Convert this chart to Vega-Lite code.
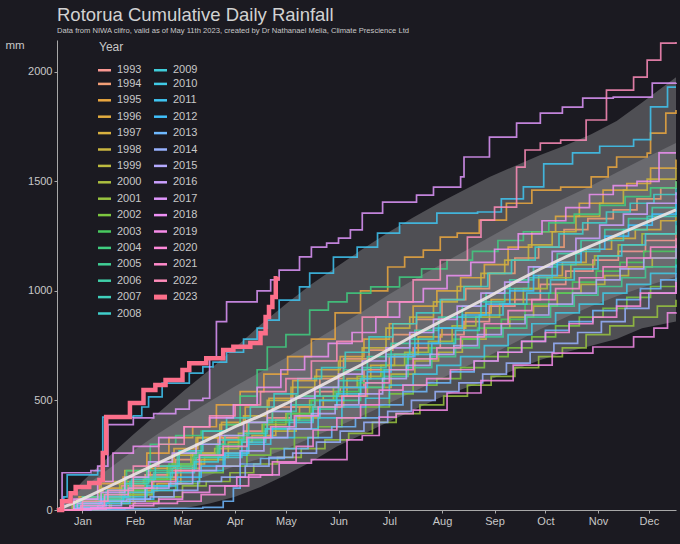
{
  "$schema": "https://vega.github.io/schema/vega-lite/v6.json",
  "width": 619,
  "height": 470,
  "autosize": {"type": "none"},
  "padding": {"left": 57, "top": 40, "right": 4, "bottom": 34},
  "background": "#1b1a21",
  "title": {
    "text": "Rotorua Cumulative Daily Rainfall",
    "subtitle": "Data from NIWA clifro, valid as of May 11th 2023, created by Dr Nathanael Melia, Climate Prescience Ltd",
    "anchor": "start",
    "frame": "group",
    "font": "Liberation Sans",
    "fontSize": 18.5,
    "fontWeight": "normal",
    "color": "#d2d2d2",
    "subtitleFont": "Liberation Sans",
    "subtitleFontSize": 7.6,
    "subtitleColor": "#c8c8c8",
    "subtitlePadding": 2,
    "offset": 4
  },
  "config": {
    "view": {"stroke": null},
    "font": "Liberation Sans",
    "axis": {
      "grid": false,
      "domainColor": "#a8a8a8",
      "tickColor": "#a8a8a8",
      "tickSize": 3,
      "labelColor": "#c8c8c8",
      "labelFontSize": 11,
      "labelPadding": 2,
      "titleColor": "#c8c8c8",
      "titleFontWeight": "normal"
    }
  },
  "datasets": {
    "band": [
      {"day": 0, "lo2": 0, "lo1": 0, "mean": 0, "hi1": 0, "hi2": 0},
      {"day": 15, "lo2": 0, "lo1": 10, "mean": 50, "hi1": 100, "hi2": 130},
      {"day": 30, "lo2": 0, "lo1": 30, "mean": 105, "hi1": 185, "hi2": 240},
      {"day": 45, "lo2": 0, "lo1": 55, "mean": 160, "hi1": 270, "hi2": 345},
      {"day": 60, "lo2": 2, "lo1": 85, "mean": 215, "hi1": 350, "hi2": 445},
      {"day": 75, "lo2": 8, "lo1": 120, "mean": 270, "hi1": 425, "hi2": 545},
      {"day": 90, "lo2": 30, "lo1": 160, "mean": 325, "hi1": 495, "hi2": 640},
      {"day": 105, "lo2": 60, "lo1": 200, "mean": 380, "hi1": 565, "hi2": 740},
      {"day": 120, "lo2": 105, "lo1": 235, "mean": 430, "hi1": 630, "hi2": 845},
      {"day": 135, "lo2": 160, "lo1": 280, "mean": 485, "hi1": 695, "hi2": 940},
      {"day": 150, "lo2": 220, "lo1": 330, "mean": 545, "hi1": 765, "hi2": 1030},
      {"day": 165, "lo2": 290, "lo1": 380, "mean": 605, "hi1": 835, "hi2": 1110},
      {"day": 180, "lo2": 345, "lo1": 430, "mean": 665, "hi1": 905, "hi2": 1190},
      {"day": 195, "lo2": 400, "lo1": 485, "mean": 730, "hi1": 980, "hi2": 1265},
      {"day": 210, "lo2": 455, "lo1": 540, "mean": 795, "hi1": 1050, "hi2": 1335},
      {"day": 225, "lo2": 510, "lo1": 595, "mean": 855, "hi1": 1115, "hi2": 1400},
      {"day": 240, "lo2": 555, "lo1": 650, "mean": 915, "hi1": 1180, "hi2": 1460},
      {"day": 255, "lo2": 595, "lo1": 705, "mean": 975, "hi1": 1245, "hi2": 1520},
      {"day": 270, "lo2": 640, "lo1": 765, "mean": 1040, "hi1": 1310, "hi2": 1570},
      {"day": 285, "lo2": 685, "lo1": 825, "mean": 1100, "hi1": 1370, "hi2": 1620},
      {"day": 300, "lo2": 720, "lo1": 880, "mean": 1155, "hi1": 1425, "hi2": 1665},
      {"day": 315, "lo2": 750, "lo1": 930, "mean": 1205, "hi1": 1480, "hi2": 1715},
      {"day": 330, "lo2": 780, "lo1": 975, "mean": 1255, "hi1": 1540, "hi2": 1775},
      {"day": 345, "lo2": 830, "lo1": 1015, "mean": 1305, "hi1": 1600, "hi2": 1860},
      {"day": 365, "lo2": 860, "lo1": 1065, "mean": 1370, "hi1": 1675, "hi2": 1975}
    ],
    "years": [
      {"Year":"1993","day":0,"mm":0},{"Year":"1993","day":10,"mm":20},{"Year":"1993","day":24,"mm":45},{"Year":"1993","day":38,"mm":110},{"Year":"1993","day":52,"mm":160},{"Year":"1993","day":66,"mm":180},{"Year":"1993","day":80,"mm":260},{"Year":"1993","day":95,"mm":330},{"Year":"1993","day":110,"mm":360},{"Year":"1993","day":124,"mm":420},{"Year":"1993","day":138,"mm":470},{"Year":"1993","day":152,"mm":540},{"Year":"1993","day":167,"mm":560},{"Year":"1993","day":181,"mm":640},{"Year":"1993","day":196,"mm":700},{"Year":"1993","day":210,"mm":740},{"Year":"1993","day":226,"mm":800},{"Year":"1993","day":240,"mm":860},{"Year":"1993","day":255,"mm":930},{"Year":"1993","day":270,"mm":960},{"Year":"1993","day":285,"mm":1030},{"Year":"1993","day":300,"mm":1090},{"Year":"1993","day":316,"mm":1140},{"Year":"1993","day":331,"mm":1180},{"Year":"1993","day":347,"mm":1230},{"Year":"1993","day":365,"mm":1270},
      {"Year":"1994","day":0,"mm":0},{"Year":"1994","day":14,"mm":30},{"Year":"1994","day":28,"mm":60},{"Year":"1994","day":42,"mm":70},{"Year":"1994","day":56,"mm":150},{"Year":"1994","day":70,"mm":230},{"Year":"1994","day":84,"mm":250},{"Year":"1994","day":98,"mm":330},{"Year":"1994","day":112,"mm":400},{"Year":"1994","day":127,"mm":470},{"Year":"1994","day":141,"mm":520},{"Year":"1994","day":155,"mm":600},{"Year":"1994","day":169,"mm":690},{"Year":"1994","day":184,"mm":730},{"Year":"1994","day":198,"mm":800},{"Year":"1994","day":212,"mm":870},{"Year":"1994","day":227,"mm":960},{"Year":"1994","day":241,"mm":1010},{"Year":"1994","day":255,"mm":1080},{"Year":"1994","day":270,"mm":1150},{"Year":"1994","day":284,"mm":1200},{"Year":"1994","day":299,"mm":1280},{"Year":"1994","day":313,"mm":1330},{"Year":"1994","day":328,"mm":1370},{"Year":"1994","day":342,"mm":1420},{"Year":"1994","day":356,"mm":1470},{"Year":"1994","day":365,"mm":1500},
      {"Year":"1995","day":0,"mm":0},{"Year":"1995","day":11,"mm":40},{"Year":"1995","day":25,"mm":120},{"Year":"1995","day":39,"mm":150},{"Year":"1995","day":53,"mm":260},{"Year":"1995","day":66,"mm":330},{"Year":"1995","day":80,"mm":380},{"Year":"1995","day":94,"mm":480},{"Year":"1995","day":108,"mm":540},{"Year":"1995","day":122,"mm":620},{"Year":"1995","day":136,"mm":700},{"Year":"1995","day":150,"mm":780},{"Year":"1995","day":164,"mm":900},{"Year":"1995","day":179,"mm":1000},{"Year":"1995","day":195,"mm":1109},{"Year":"1995","day":205,"mm":1154},{"Year":"1995","day":216,"mm":1186},{"Year":"1995","day":226,"mm":1245},{"Year":"1995","day":236,"mm":1264},{"Year":"1995","day":249,"mm":1323},{"Year":"1995","day":265,"mm":1400},{"Year":"1995","day":280,"mm":1460},{"Year":"1995","day":297,"mm":1474},{"Year":"1995","day":315,"mm":1520},{"Year":"1995","day":325,"mm":1565},{"Year":"1995","day":330,"mm":1611},{"Year":"1995","day":348,"mm":1629},{"Year":"1995","day":350,"mm":1720},{"Year":"1995","day":359,"mm":1811},{"Year":"1995","day":365,"mm":1825},
      {"Year":"1996","day":0,"mm":0},{"Year":"1996","day":13,"mm":60},{"Year":"1996","day":27,"mm":100},{"Year":"1996","day":41,"mm":130},{"Year":"1996","day":55,"mm":190},{"Year":"1996","day":69,"mm":280},{"Year":"1996","day":83,"mm":330},{"Year":"1996","day":97,"mm":400},{"Year":"1996","day":111,"mm":470},{"Year":"1996","day":125,"mm":510},{"Year":"1996","day":139,"mm":590},{"Year":"1996","day":153,"mm":640},{"Year":"1996","day":167,"mm":700},{"Year":"1996","day":181,"mm":780},{"Year":"1996","day":196,"mm":850},{"Year":"1996","day":210,"mm":930},{"Year":"1996","day":224,"mm":1000},{"Year":"1996","day":238,"mm":1060},{"Year":"1996","day":252,"mm":1120},{"Year":"1996","day":266,"mm":1200},{"Year":"1996","day":280,"mm":1270},{"Year":"1996","day":294,"mm":1340},{"Year":"1996","day":308,"mm":1400},{"Year":"1996","day":322,"mm":1460},{"Year":"1996","day":336,"mm":1490},{"Year":"1996","day":350,"mm":1560},{"Year":"1996","day":365,"mm":1600},
      {"Year":"1997","day":0,"mm":0},{"Year":"1997","day":16,"mm":5},{"Year":"1997","day":31,"mm":40},{"Year":"1997","day":45,"mm":90},{"Year":"1997","day":59,"mm":120},{"Year":"1997","day":73,"mm":210},{"Year":"1997","day":87,"mm":240},{"Year":"1997","day":101,"mm":310},{"Year":"1997","day":115,"mm":340},{"Year":"1997","day":129,"mm":410},{"Year":"1997","day":143,"mm":470},{"Year":"1997","day":157,"mm":520},{"Year":"1997","day":171,"mm":600},{"Year":"1997","day":185,"mm":660},{"Year":"1997","day":199,"mm":710},{"Year":"1997","day":213,"mm":790},{"Year":"1997","day":227,"mm":830},{"Year":"1997","day":241,"mm":900},{"Year":"1997","day":256,"mm":960},{"Year":"1997","day":270,"mm":1010},{"Year":"1997","day":284,"mm":1070},{"Year":"1997","day":298,"mm":1130},{"Year":"1997","day":312,"mm":1190},{"Year":"1997","day":327,"mm":1240},{"Year":"1997","day":341,"mm":1280},{"Year":"1997","day":356,"mm":1320},{"Year":"1997","day":365,"mm":1340},
      {"Year":"1998","day":0,"mm":0},{"Year":"1998","day":12,"mm":50},{"Year":"1998","day":26,"mm":130},{"Year":"1998","day":40,"mm":180},{"Year":"1998","day":54,"mm":200},{"Year":"1998","day":68,"mm":250},{"Year":"1998","day":82,"mm":330},{"Year":"1998","day":96,"mm":390},{"Year":"1998","day":110,"mm":430},{"Year":"1998","day":124,"mm":500},{"Year":"1998","day":138,"mm":560},{"Year":"1998","day":152,"mm":610},{"Year":"1998","day":166,"mm":680},{"Year":"1998","day":180,"mm":740},{"Year":"1998","day":194,"mm":830},{"Year":"1998","day":208,"mm":880},{"Year":"1998","day":222,"mm":950},{"Year":"1998","day":236,"mm":1020},{"Year":"1998","day":250,"mm":1080},{"Year":"1998","day":264,"mm":1140},{"Year":"1998","day":278,"mm":1210},{"Year":"1998","day":292,"mm":1270},{"Year":"1998","day":306,"mm":1340},{"Year":"1998","day":320,"mm":1400},{"Year":"1998","day":334,"mm":1460},{"Year":"1998","day":348,"mm":1510},{"Year":"1998","day":365,"mm":1560},
      {"Year":"1999","day":0,"mm":0},{"Year":"1999","day":15,"mm":20},{"Year":"1999","day":29,"mm":60},{"Year":"1999","day":43,"mm":80},{"Year":"1999","day":57,"mm":140},{"Year":"1999","day":71,"mm":190},{"Year":"1999","day":85,"mm":230},{"Year":"1999","day":99,"mm":260},{"Year":"1999","day":113,"mm":330},{"Year":"1999","day":127,"mm":360},{"Year":"1999","day":141,"mm":420},{"Year":"1999","day":155,"mm":470},{"Year":"1999","day":169,"mm":520},{"Year":"1999","day":183,"mm":560},{"Year":"1999","day":197,"mm":620},{"Year":"1999","day":211,"mm":680},{"Year":"1999","day":225,"mm":720},{"Year":"1999","day":239,"mm":780},{"Year":"1999","day":253,"mm":830},{"Year":"1999","day":267,"mm":880},{"Year":"1999","day":281,"mm":930},{"Year":"1999","day":295,"mm":990},{"Year":"1999","day":309,"mm":1030},{"Year":"1999","day":323,"mm":1070},{"Year":"1999","day":337,"mm":1110},{"Year":"1999","day":351,"mm":1150},{"Year":"1999","day":365,"mm":1180},
      {"Year":"2000","day":0,"mm":0},{"Year":"2000","day":9,"mm":30},{"Year":"2000","day":23,"mm":50},{"Year":"2000","day":37,"mm":120},{"Year":"2000","day":51,"mm":140},{"Year":"2000","day":65,"mm":200},{"Year":"2000","day":79,"mm":260},{"Year":"2000","day":93,"mm":280},{"Year":"2000","day":107,"mm":350},{"Year":"2000","day":121,"mm":390},{"Year":"2000","day":135,"mm":440},{"Year":"2000","day":149,"mm":500},{"Year":"2000","day":163,"mm":560},{"Year":"2000","day":177,"mm":610},{"Year":"2000","day":191,"mm":660},{"Year":"2000","day":205,"mm":720},{"Year":"2000","day":219,"mm":770},{"Year":"2000","day":233,"mm":840},{"Year":"2000","day":247,"mm":880},{"Year":"2000","day":261,"mm":940},{"Year":"2000","day":275,"mm":1010},{"Year":"2000","day":289,"mm":1060},{"Year":"2000","day":303,"mm":1120},{"Year":"2000","day":317,"mm":1160},{"Year":"2000","day":331,"mm":1210},{"Year":"2000","day":345,"mm":1260},{"Year":"2000","day":365,"mm":1300},
      {"Year":"2001","day":0,"mm":0},{"Year":"2001","day":17,"mm":10},{"Year":"2001","day":32,"mm":30},{"Year":"2001","day":46,"mm":40},{"Year":"2001","day":60,"mm":60},{"Year":"2001","day":74,"mm":110},{"Year":"2001","day":88,"mm":130},{"Year":"2001","day":102,"mm":170},{"Year":"2001","day":116,"mm":210},{"Year":"2001","day":130,"mm":240},{"Year":"2001","day":144,"mm":280},{"Year":"2001","day":158,"mm":320},{"Year":"2001","day":172,"mm":350},{"Year":"2001","day":186,"mm":400},{"Year":"2001","day":200,"mm":440},{"Year":"2001","day":214,"mm":480},{"Year":"2001","day":228,"mm":520},{"Year":"2001","day":242,"mm":570},{"Year":"2001","day":256,"mm":610},{"Year":"2001","day":270,"mm":650},{"Year":"2001","day":284,"mm":700},{"Year":"2001","day":298,"mm":740},{"Year":"2001","day":312,"mm":800},{"Year":"2001","day":326,"mm":840},{"Year":"2001","day":340,"mm":880},{"Year":"2001","day":354,"mm":930},{"Year":"2001","day":365,"mm":960},
      {"Year":"2002","day":0,"mm":0},{"Year":"2002","day":14,"mm":15},{"Year":"2002","day":28,"mm":30},{"Year":"2002","day":42,"mm":70},{"Year":"2002","day":56,"mm":90},{"Year":"2002","day":70,"mm":120},{"Year":"2002","day":84,"mm":170},{"Year":"2002","day":98,"mm":200},{"Year":"2002","day":112,"mm":250},{"Year":"2002","day":126,"mm":280},{"Year":"2002","day":140,"mm":330},{"Year":"2002","day":154,"mm":380},{"Year":"2002","day":168,"mm":420},{"Year":"2002","day":182,"mm":470},{"Year":"2002","day":196,"mm":530},{"Year":"2002","day":210,"mm":570},{"Year":"2002","day":224,"mm":600},{"Year":"2002","day":238,"mm":650},{"Year":"2002","day":252,"mm":700},{"Year":"2002","day":266,"mm":740},{"Year":"2002","day":280,"mm":790},{"Year":"2002","day":294,"mm":840},{"Year":"2002","day":308,"mm":880},{"Year":"2002","day":322,"mm":920},{"Year":"2002","day":336,"mm":970},{"Year":"2002","day":350,"mm":1020},{"Year":"2002","day":365,"mm":1060},
      {"Year":"2003","day":0,"mm":0},{"Year":"2003","day":10,"mm":20},{"Year":"2003","day":24,"mm":70},{"Year":"2003","day":38,"mm":90},{"Year":"2003","day":52,"mm":140},{"Year":"2003","day":66,"mm":210},{"Year":"2003","day":80,"mm":240},{"Year":"2003","day":94,"mm":300},{"Year":"2003","day":108,"mm":330},{"Year":"2003","day":122,"mm":400},{"Year":"2003","day":136,"mm":440},{"Year":"2003","day":150,"mm":500},{"Year":"2003","day":164,"mm":540},{"Year":"2003","day":178,"mm":580},{"Year":"2003","day":192,"mm":640},{"Year":"2003","day":206,"mm":690},{"Year":"2003","day":220,"mm":740},{"Year":"2003","day":234,"mm":780},{"Year":"2003","day":248,"mm":830},{"Year":"2003","day":262,"mm":870},{"Year":"2003","day":276,"mm":940},{"Year":"2003","day":290,"mm":990},{"Year":"2003","day":304,"mm":1040},{"Year":"2003","day":318,"mm":1090},{"Year":"2003","day":332,"mm":1130},{"Year":"2003","day":346,"mm":1180},{"Year":"2003","day":365,"mm":1230},
      {"Year":"2004","day":0,"mm":0},{"Year":"2004","day":13,"mm":40},{"Year":"2004","day":27,"mm":70},{"Year":"2004","day":41,"mm":180},{"Year":"2004","day":55,"mm":300},{"Year":"2004","day":70,"mm":340},{"Year":"2004","day":85,"mm":360},{"Year":"2004","day":100,"mm":390},{"Year":"2004","day":108,"mm":520},{"Year":"2004","day":118,"mm":640},{"Year":"2004","day":124,"mm":744},{"Year":"2004","day":135,"mm":800},{"Year":"2004","day":149,"mm":912},{"Year":"2004","day":160,"mm":950},{"Year":"2004","day":171,"mm":990},{"Year":"2004","day":185,"mm":1018},{"Year":"2004","day":202,"mm":1063},{"Year":"2004","day":215,"mm":1100},{"Year":"2004","day":230,"mm":1140},{"Year":"2004","day":245,"mm":1180},{"Year":"2004","day":260,"mm":1230},{"Year":"2004","day":275,"mm":1270},{"Year":"2004","day":290,"mm":1310},{"Year":"2004","day":305,"mm":1350},{"Year":"2004","day":320,"mm":1390},{"Year":"2004","day":335,"mm":1430},{"Year":"2004","day":350,"mm":1470},{"Year":"2004","day":365,"mm":1500},
      {"Year":"2005","day":0,"mm":0},{"Year":"2005","day":11,"mm":30},{"Year":"2005","day":25,"mm":40},{"Year":"2005","day":39,"mm":100},{"Year":"2005","day":53,"mm":180},{"Year":"2005","day":67,"mm":200},{"Year":"2005","day":81,"mm":250},{"Year":"2005","day":95,"mm":290},{"Year":"2005","day":109,"mm":320},{"Year":"2005","day":123,"mm":370},{"Year":"2005","day":137,"mm":410},{"Year":"2005","day":151,"mm":460},{"Year":"2005","day":165,"mm":500},{"Year":"2005","day":179,"mm":560},{"Year":"2005","day":193,"mm":610},{"Year":"2005","day":207,"mm":650},{"Year":"2005","day":221,"mm":700},{"Year":"2005","day":235,"mm":740},{"Year":"2005","day":249,"mm":790},{"Year":"2005","day":263,"mm":830},{"Year":"2005","day":277,"mm":880},{"Year":"2005","day":291,"mm":930},{"Year":"2005","day":305,"mm":980},{"Year":"2005","day":319,"mm":1020},{"Year":"2005","day":333,"mm":1060},{"Year":"2005","day":347,"mm":1110},{"Year":"2005","day":365,"mm":1150},
      {"Year":"2006","day":0,"mm":0},{"Year":"2006","day":15,"mm":60},{"Year":"2006","day":29,"mm":90},{"Year":"2006","day":43,"mm":130},{"Year":"2006","day":57,"mm":170},{"Year":"2006","day":71,"mm":260},{"Year":"2006","day":85,"mm":300},{"Year":"2006","day":99,"mm":340},{"Year":"2006","day":113,"mm":400},{"Year":"2006","day":127,"mm":450},{"Year":"2006","day":141,"mm":520},{"Year":"2006","day":155,"mm":560},{"Year":"2006","day":169,"mm":640},{"Year":"2006","day":183,"mm":700},{"Year":"2006","day":197,"mm":760},{"Year":"2006","day":211,"mm":820},{"Year":"2006","day":225,"mm":880},{"Year":"2006","day":239,"mm":930},{"Year":"2006","day":253,"mm":990},{"Year":"2006","day":267,"mm":1050},{"Year":"2006","day":281,"mm":1110},{"Year":"2006","day":295,"mm":1170},{"Year":"2006","day":309,"mm":1230},{"Year":"2006","day":323,"mm":1280},{"Year":"2006","day":337,"mm":1330},{"Year":"2006","day":351,"mm":1380},{"Year":"2006","day":365,"mm":1420},
      {"Year":"2007","day":0,"mm":0},{"Year":"2007","day":12,"mm":10},{"Year":"2007","day":26,"mm":50},{"Year":"2007","day":40,"mm":120},{"Year":"2007","day":54,"mm":150},{"Year":"2007","day":68,"mm":190},{"Year":"2007","day":82,"mm":240},{"Year":"2007","day":96,"mm":320},{"Year":"2007","day":110,"mm":350},{"Year":"2007","day":124,"mm":410},{"Year":"2007","day":138,"mm":480},{"Year":"2007","day":152,"mm":520},{"Year":"2007","day":166,"mm":590},{"Year":"2007","day":180,"mm":650},{"Year":"2007","day":194,"mm":710},{"Year":"2007","day":208,"mm":780},{"Year":"2007","day":222,"mm":830},{"Year":"2007","day":236,"mm":880},{"Year":"2007","day":250,"mm":950},{"Year":"2007","day":264,"mm":1010},{"Year":"2007","day":278,"mm":1060},{"Year":"2007","day":292,"mm":1120},{"Year":"2007","day":306,"mm":1180},{"Year":"2007","day":320,"mm":1230},{"Year":"2007","day":334,"mm":1280},{"Year":"2007","day":348,"mm":1340},{"Year":"2007","day":365,"mm":1380},
      {"Year":"2008","day":0,"mm":0},{"Year":"2008","day":16,"mm":30},{"Year":"2008","day":30,"mm":90},{"Year":"2008","day":44,"mm":140},{"Year":"2008","day":58,"mm":200},{"Year":"2008","day":72,"mm":270},{"Year":"2008","day":86,"mm":360},{"Year":"2008","day":100,"mm":420},{"Year":"2008","day":114,"mm":470},{"Year":"2008","day":128,"mm":530},{"Year":"2008","day":142,"mm":600},{"Year":"2008","day":156,"mm":650},{"Year":"2008","day":170,"mm":720},{"Year":"2008","day":184,"mm":790},{"Year":"2008","day":198,"mm":850},{"Year":"2008","day":212,"mm":900},{"Year":"2008","day":226,"mm":960},{"Year":"2008","day":240,"mm":1020},{"Year":"2008","day":254,"mm":1080},{"Year":"2008","day":268,"mm":1140},{"Year":"2008","day":282,"mm":1200},{"Year":"2008","day":296,"mm":1260},{"Year":"2008","day":310,"mm":1310},{"Year":"2008","day":324,"mm":1360},{"Year":"2008","day":338,"mm":1400},{"Year":"2008","day":352,"mm":1440},{"Year":"2008","day":365,"mm":1470},
      {"Year":"2009","day":0,"mm":0},{"Year":"2009","day":11,"mm":20},{"Year":"2009","day":25,"mm":40},{"Year":"2009","day":39,"mm":60},{"Year":"2009","day":53,"mm":110},{"Year":"2009","day":67,"mm":170},{"Year":"2009","day":81,"mm":220},{"Year":"2009","day":95,"mm":240},{"Year":"2009","day":109,"mm":310},{"Year":"2009","day":123,"mm":370},{"Year":"2009","day":137,"mm":400},{"Year":"2009","day":151,"mm":470},{"Year":"2009","day":165,"mm":530},{"Year":"2009","day":179,"mm":600},{"Year":"2009","day":193,"mm":640},{"Year":"2009","day":207,"mm":710},{"Year":"2009","day":221,"mm":760},{"Year":"2009","day":235,"mm":820},{"Year":"2009","day":249,"mm":890},{"Year":"2009","day":263,"mm":940},{"Year":"2009","day":277,"mm":990},{"Year":"2009","day":291,"mm":1050},{"Year":"2009","day":305,"mm":1100},{"Year":"2009","day":319,"mm":1160},{"Year":"2009","day":333,"mm":1210},{"Year":"2009","day":347,"mm":1260},{"Year":"2009","day":365,"mm":1320},
      {"Year":"2010","day":0,"mm":0},{"Year":"2010","day":14,"mm":50},{"Year":"2010","day":28,"mm":60},{"Year":"2010","day":42,"mm":80},{"Year":"2010","day":56,"mm":110},{"Year":"2010","day":70,"mm":130},{"Year":"2010","day":84,"mm":180},{"Year":"2010","day":98,"mm":250},{"Year":"2010","day":112,"mm":300},{"Year":"2010","day":126,"mm":330},{"Year":"2010","day":140,"mm":370},{"Year":"2010","day":154,"mm":420},{"Year":"2010","day":168,"mm":470},{"Year":"2010","day":182,"mm":510},{"Year":"2010","day":196,"mm":570},{"Year":"2010","day":210,"mm":620},{"Year":"2010","day":224,"mm":660},{"Year":"2010","day":238,"mm":700},{"Year":"2010","day":252,"mm":750},{"Year":"2010","day":266,"mm":800},{"Year":"2010","day":280,"mm":850},{"Year":"2010","day":294,"mm":900},{"Year":"2010","day":308,"mm":940},{"Year":"2010","day":322,"mm":990},{"Year":"2010","day":336,"mm":1030},{"Year":"2010","day":350,"mm":1080},{"Year":"2010","day":365,"mm":1120},
      {"Year":"2011","day":0,"mm":0},{"Year":"2011","day":4,"mm":60},{"Year":"2011","day":6,"mm":160},{"Year":"2011","day":20,"mm":160},{"Year":"2011","day":24,"mm":180},{"Year":"2011","day":27,"mm":424},{"Year":"2011","day":45,"mm":430},{"Year":"2011","day":50,"mm":470},{"Year":"2011","day":54,"mm":516},{"Year":"2011","day":62,"mm":579},{"Year":"2011","day":78,"mm":625},{"Year":"2011","day":86,"mm":653},{"Year":"2011","day":92,"mm":675},{"Year":"2011","day":100,"mm":720},{"Year":"2011","day":110,"mm":780},{"Year":"2011","day":118,"mm":830},{"Year":"2011","day":124,"mm":867},{"Year":"2011","day":131,"mm":958},{"Year":"2011","day":143,"mm":1018},{"Year":"2011","day":149,"mm":1081},{"Year":"2011","day":163,"mm":1154},{"Year":"2011","day":177,"mm":1200},{"Year":"2011","day":189,"mm":1264},{"Year":"2011","day":202,"mm":1309},{"Year":"2011","day":224,"mm":1355},{"Year":"2011","day":248,"mm":1360},{"Year":"2011","day":262,"mm":1420},{"Year":"2011","day":275,"mm":1475},{"Year":"2011","day":287,"mm":1580},{"Year":"2011","day":304,"mm":1630},{"Year":"2011","day":320,"mm":1660},{"Year":"2011","day":340,"mm":1690},{"Year":"2011","day":350,"mm":1840},{"Year":"2011","day":360,"mm":1930},{"Year":"2011","day":365,"mm":1930},
      {"Year":"2012","day":0,"mm":0},{"Year":"2012","day":15,"mm":20},{"Year":"2012","day":29,"mm":30},{"Year":"2012","day":43,"mm":50},{"Year":"2012","day":57,"mm":90},{"Year":"2012","day":71,"mm":150},{"Year":"2012","day":85,"mm":200},{"Year":"2012","day":99,"mm":260},{"Year":"2012","day":113,"mm":330},{"Year":"2012","day":127,"mm":380},{"Year":"2012","day":141,"mm":430},{"Year":"2012","day":155,"mm":500},{"Year":"2012","day":169,"mm":560},{"Year":"2012","day":183,"mm":630},{"Year":"2012","day":197,"mm":700},{"Year":"2012","day":211,"mm":760},{"Year":"2012","day":225,"mm":830},{"Year":"2012","day":239,"mm":890},{"Year":"2012","day":253,"mm":940},{"Year":"2012","day":267,"mm":1000},{"Year":"2012","day":281,"mm":1070},{"Year":"2012","day":295,"mm":1130},{"Year":"2012","day":309,"mm":1190},{"Year":"2012","day":323,"mm":1250},{"Year":"2012","day":337,"mm":1300},{"Year":"2012","day":351,"mm":1350},{"Year":"2012","day":365,"mm":1400},
      {"Year":"2013","day":0,"mm":0},{"Year":"2013","day":20,"mm":3},{"Year":"2013","day":40,"mm":5},{"Year":"2013","day":60,"mm":8},{"Year":"2013","day":86,"mm":12},{"Year":"2013","day":98,"mm":40},{"Year":"2013","day":104,"mm":100},{"Year":"2013","day":108,"mm":210},{"Year":"2013","day":120,"mm":235},{"Year":"2013","day":134,"mm":280},{"Year":"2013","day":148,"mm":330},{"Year":"2013","day":162,"mm":380},{"Year":"2013","day":176,"mm":420},{"Year":"2013","day":190,"mm":480},{"Year":"2013","day":204,"mm":540},{"Year":"2013","day":218,"mm":580},{"Year":"2013","day":232,"mm":630},{"Year":"2013","day":246,"mm":680},{"Year":"2013","day":260,"mm":720},{"Year":"2013","day":274,"mm":770},{"Year":"2013","day":288,"mm":820},{"Year":"2013","day":302,"mm":860},{"Year":"2013","day":316,"mm":910},{"Year":"2013","day":330,"mm":960},{"Year":"2013","day":344,"mm":1010},{"Year":"2013","day":356,"mm":1050},{"Year":"2013","day":365,"mm":1080},
      {"Year":"2014","day":0,"mm":0},{"Year":"2014","day":13,"mm":10},{"Year":"2014","day":27,"mm":40},{"Year":"2014","day":41,"mm":50},{"Year":"2014","day":55,"mm":60},{"Year":"2014","day":69,"mm":90},{"Year":"2014","day":83,"mm":130},{"Year":"2014","day":97,"mm":150},{"Year":"2014","day":111,"mm":200},{"Year":"2014","day":125,"mm":240},{"Year":"2014","day":139,"mm":260},{"Year":"2014","day":153,"mm":310},{"Year":"2014","day":167,"mm":360},{"Year":"2014","day":181,"mm":400},{"Year":"2014","day":195,"mm":450},{"Year":"2014","day":209,"mm":500},{"Year":"2014","day":223,"mm":540},{"Year":"2014","day":237,"mm":580},{"Year":"2014","day":251,"mm":620},{"Year":"2014","day":265,"mm":670},{"Year":"2014","day":279,"mm":720},{"Year":"2014","day":293,"mm":760},{"Year":"2014","day":307,"mm":810},{"Year":"2014","day":321,"mm":860},{"Year":"2014","day":335,"mm":920},{"Year":"2014","day":349,"mm":990},{"Year":"2014","day":365,"mm":1050},
      {"Year":"2015","day":0,"mm":0},{"Year":"2015","day":10,"mm":5},{"Year":"2015","day":24,"mm":20},{"Year":"2015","day":38,"mm":40},{"Year":"2015","day":52,"mm":100},{"Year":"2015","day":66,"mm":120},{"Year":"2015","day":80,"mm":180},{"Year":"2015","day":94,"mm":200},{"Year":"2015","day":108,"mm":270},{"Year":"2015","day":122,"mm":330},{"Year":"2015","day":136,"mm":370},{"Year":"2015","day":150,"mm":440},{"Year":"2015","day":164,"mm":480},{"Year":"2015","day":178,"mm":530},{"Year":"2015","day":192,"mm":600},{"Year":"2015","day":206,"mm":660},{"Year":"2015","day":220,"mm":710},{"Year":"2015","day":234,"mm":750},{"Year":"2015","day":248,"mm":800},{"Year":"2015","day":262,"mm":850},{"Year":"2015","day":276,"mm":890},{"Year":"2015","day":290,"mm":940},{"Year":"2015","day":304,"mm":990},{"Year":"2015","day":318,"mm":1050},{"Year":"2015","day":332,"mm":1100},{"Year":"2015","day":346,"mm":1150},{"Year":"2015","day":365,"mm":1210},
      {"Year":"2016","day":0,"mm":0},{"Year":"2016","day":12,"mm":30},{"Year":"2016","day":26,"mm":80},{"Year":"2016","day":40,"mm":150},{"Year":"2016","day":54,"mm":220},{"Year":"2016","day":68,"mm":260},{"Year":"2016","day":82,"mm":300},{"Year":"2016","day":96,"mm":340},{"Year":"2016","day":110,"mm":400},{"Year":"2016","day":124,"mm":450},{"Year":"2016","day":138,"mm":510},{"Year":"2016","day":152,"mm":560},{"Year":"2016","day":166,"mm":620},{"Year":"2016","day":180,"mm":680},{"Year":"2016","day":194,"mm":740},{"Year":"2016","day":208,"mm":810},{"Year":"2016","day":222,"mm":870},{"Year":"2016","day":236,"mm":930},{"Year":"2016","day":250,"mm":990},{"Year":"2016","day":264,"mm":1040},{"Year":"2016","day":278,"mm":1110},{"Year":"2016","day":292,"mm":1180},{"Year":"2016","day":306,"mm":1240},{"Year":"2016","day":320,"mm":1300},{"Year":"2016","day":334,"mm":1350},{"Year":"2016","day":348,"mm":1400},{"Year":"2016","day":365,"mm":1450},
      {"Year":"2017","day":0,"mm":0},{"Year":"2017","day":3,"mm":170},{"Year":"2017","day":20,"mm":180},{"Year":"2017","day":24,"mm":200},{"Year":"2017","day":30,"mm":390},{"Year":"2017","day":45,"mm":420},{"Year":"2017","day":57,"mm":440},{"Year":"2017","day":70,"mm":460},{"Year":"2017","day":78,"mm":500},{"Year":"2017","day":86,"mm":510},{"Year":"2017","day":90,"mm":690},{"Year":"2017","day":94,"mm":860},{"Year":"2017","day":100,"mm":950},{"Year":"2017","day":118,"mm":1000},{"Year":"2017","day":126,"mm":1050},{"Year":"2017","day":131,"mm":1095},{"Year":"2017","day":143,"mm":1155},{"Year":"2017","day":150,"mm":1200},{"Year":"2017","day":159,"mm":1218},{"Year":"2017","day":166,"mm":1241},{"Year":"2017","day":173,"mm":1278},{"Year":"2017","day":180,"mm":1355},{"Year":"2017","day":192,"mm":1405},{"Year":"2017","day":212,"mm":1437},{"Year":"2017","day":222,"mm":1474},{"Year":"2017","day":238,"mm":1520},{"Year":"2017","day":240,"mm":1611},{"Year":"2017","day":255,"mm":1702},{"Year":"2017","day":271,"mm":1766},{"Year":"2017","day":285,"mm":1811},{"Year":"2017","day":298,"mm":1839},{"Year":"2017","day":310,"mm":1880},{"Year":"2017","day":328,"mm":1884},{"Year":"2017","day":351,"mm":1948},{"Year":"2017","day":365,"mm":1950},
      {"Year":"2018","day":0,"mm":0},{"Year":"2018","day":10,"mm":50},{"Year":"2018","day":24,"mm":130},{"Year":"2018","day":33,"mm":260},{"Year":"2018","day":45,"mm":290},{"Year":"2018","day":60,"mm":330},{"Year":"2018","day":75,"mm":380},{"Year":"2018","day":90,"mm":420},{"Year":"2018","day":104,"mm":480},{"Year":"2018","day":118,"mm":560},{"Year":"2018","day":132,"mm":640},{"Year":"2018","day":146,"mm":700},{"Year":"2018","day":160,"mm":760},{"Year":"2018","day":174,"mm":810},{"Year":"2018","day":188,"mm":880},{"Year":"2018","day":202,"mm":950},{"Year":"2018","day":216,"mm":1010},{"Year":"2018","day":230,"mm":1070},{"Year":"2018","day":244,"mm":1130},{"Year":"2018","day":258,"mm":1190},{"Year":"2018","day":272,"mm":1260},{"Year":"2018","day":286,"mm":1320},{"Year":"2018","day":300,"mm":1380},{"Year":"2018","day":314,"mm":1440},{"Year":"2018","day":328,"mm":1480},{"Year":"2018","day":342,"mm":1500},{"Year":"2018","day":355,"mm":1630},{"Year":"2018","day":365,"mm":1630},
      {"Year":"2019","day":0,"mm":0},{"Year":"2019","day":20,"mm":10},{"Year":"2019","day":45,"mm":30},{"Year":"2019","day":60,"mm":50},{"Year":"2019","day":74,"mm":80},{"Year":"2019","day":90,"mm":110},{"Year":"2019","day":106,"mm":150},{"Year":"2019","day":120,"mm":160},{"Year":"2019","day":131,"mm":214},{"Year":"2019","day":150,"mm":230},{"Year":"2019","day":171,"mm":320},{"Year":"2019","day":180,"mm":340},{"Year":"2019","day":190,"mm":424},{"Year":"2019","day":200,"mm":440},{"Year":"2019","day":210,"mm":456},{"Year":"2019","day":230,"mm":534},{"Year":"2019","day":250,"mm":590},{"Year":"2019","day":269,"mm":661},{"Year":"2019","day":292,"mm":716},{"Year":"2019","day":316,"mm":744},{"Year":"2019","day":332,"mm":744},{"Year":"2019","day":340,"mm":790},{"Year":"2019","day":352,"mm":830},{"Year":"2019","day":360,"mm":900},{"Year":"2019","day":365,"mm":903},
      {"Year":"2020","day":0,"mm":0},{"Year":"2020","day":15,"mm":5},{"Year":"2020","day":29,"mm":10},{"Year":"2020","day":43,"mm":20},{"Year":"2020","day":57,"mm":30},{"Year":"2020","day":71,"mm":40},{"Year":"2020","day":85,"mm":70},{"Year":"2020","day":99,"mm":110},{"Year":"2020","day":113,"mm":160},{"Year":"2020","day":127,"mm":220},{"Year":"2020","day":141,"mm":290},{"Year":"2020","day":151,"mm":365},{"Year":"2020","day":165,"mm":420},{"Year":"2020","day":179,"mm":480},{"Year":"2020","day":190,"mm":547},{"Year":"2020","day":204,"mm":570},{"Year":"2020","day":218,"mm":600},{"Year":"2020","day":232,"mm":640},{"Year":"2020","day":246,"mm":680},{"Year":"2020","day":260,"mm":720},{"Year":"2020","day":274,"mm":770},{"Year":"2020","day":288,"mm":810},{"Year":"2020","day":302,"mm":850},{"Year":"2020","day":316,"mm":880},{"Year":"2020","day":330,"mm":930},{"Year":"2020","day":344,"mm":990},{"Year":"2020","day":365,"mm":1040},
      {"Year":"2021","day":0,"mm":0},{"Year":"2021","day":14,"mm":20},{"Year":"2021","day":28,"mm":70},{"Year":"2021","day":42,"mm":100},{"Year":"2021","day":56,"mm":130},{"Year":"2021","day":70,"mm":180},{"Year":"2021","day":84,"mm":250},{"Year":"2021","day":98,"mm":290},{"Year":"2021","day":112,"mm":330},{"Year":"2021","day":126,"mm":380},{"Year":"2021","day":140,"mm":430},{"Year":"2021","day":154,"mm":470},{"Year":"2021","day":168,"mm":520},{"Year":"2021","day":182,"mm":580},{"Year":"2021","day":196,"mm":640},{"Year":"2021","day":210,"mm":690},{"Year":"2021","day":224,"mm":740},{"Year":"2021","day":238,"mm":790},{"Year":"2021","day":252,"mm":850},{"Year":"2021","day":266,"mm":910},{"Year":"2021","day":280,"mm":960},{"Year":"2021","day":294,"mm":1010},{"Year":"2021","day":308,"mm":1060},{"Year":"2021","day":322,"mm":1110},{"Year":"2021","day":336,"mm":1150},{"Year":"2021","day":350,"mm":1200},{"Year":"2021","day":365,"mm":1240},
      {"Year":"2022","day":0,"mm":0},{"Year":"2022","day":15,"mm":40},{"Year":"2022","day":30,"mm":90},{"Year":"2022","day":45,"mm":200},{"Year":"2022","day":60,"mm":300},{"Year":"2022","day":75,"mm":380},{"Year":"2022","day":90,"mm":430},{"Year":"2022","day":105,"mm":480},{"Year":"2022","day":120,"mm":540},{"Year":"2022","day":135,"mm":600},{"Year":"2022","day":150,"mm":680},{"Year":"2022","day":165,"mm":770},{"Year":"2022","day":180,"mm":880},{"Year":"2022","day":195,"mm":950},{"Year":"2022","day":210,"mm":1050},{"Year":"2022","day":226,"mm":1141},{"Year":"2022","day":242,"mm":1245},{"Year":"2022","day":250,"mm":1323},{"Year":"2022","day":258,"mm":1382},{"Year":"2022","day":271,"mm":1565},{"Year":"2022","day":276,"mm":1643},{"Year":"2022","day":285,"mm":1674},{"Year":"2022","day":297,"mm":1688},{"Year":"2022","day":312,"mm":1780},{"Year":"2022","day":324,"mm":1916},{"Year":"2022","day":340,"mm":1976},{"Year":"2022","day":348,"mm":2053},{"Year":"2022","day":356,"mm":2131},{"Year":"2022","day":365,"mm":2136},
      {"Year":"2023","day":0,"mm":0},{"Year":"2023","day":3,"mm":40},{"Year":"2023","day":8,"mm":77},{"Year":"2023","day":11,"mm":105},{"Year":"2023","day":19,"mm":123},{"Year":"2023","day":25,"mm":137},{"Year":"2023","day":27,"mm":260},{"Year":"2023","day":29,"mm":424},{"Year":"2023","day":41,"mm":424},{"Year":"2023","day":43,"mm":488},{"Year":"2023","day":51,"mm":548},{"Year":"2023","day":58,"mm":570},{"Year":"2023","day":64,"mm":593},{"Year":"2023","day":74,"mm":639},{"Year":"2023","day":78,"mm":670},{"Year":"2023","day":88,"mm":693},{"Year":"2023","day":98,"mm":730},{"Year":"2023","day":104,"mm":745},{"Year":"2023","day":114,"mm":762},{"Year":"2023","day":120,"mm":807},{"Year":"2023","day":123,"mm":881},{"Year":"2023","day":125,"mm":926},{"Year":"2023","day":127,"mm":972},{"Year":"2023","day":129,"mm":1058},{"Year":"2023","day":130,"mm":1065}
    ]
  },
  "layer": [
    {
      "data": {"name": "band"},
      "mark": {"type": "area", "color": "#4f4f54"},
      "encoding": {
        "x": {
          "field": "day", "type": "quantitative", "title": null,
          "scale": {"domain": [0, 365], "nice": false, "zero": false},
          "axis": {
            "values": [15, 46, 74, 105, 135, 166, 196, 227, 258, 288, 319, 349],
            "labelExpr": "['Jan','Feb','Mar','Apr','May','Jun','Jul','Aug','Sep','Oct','Nov','Dec'][indexof([15,46,74,105,135,166,196,227,258,288,319,349], datum.value)]",
            "title": null
          }
        },
        "y": {
          "field": "lo2", "type": "quantitative", "title": "mm",
          "scale": {"domain": [0, 2145], "nice": false},
          "axis": {
            "values": [0, 500, 1000, 1500, 2000],
            "format": "d",
            "title": "mm",
            "titleAngle": 0,
            "titleX": -52,
            "titleY": 8,
            "titleAlign": "left",
            "titleBaseline": "alphabetic",
            "titleFontSize": 11.5
          }
        },
        "y2": {"field": "hi2"}
      }
    },
    {
      "data": {"name": "band"},
      "mark": {"type": "area", "color": "#6a6a6f"},
      "encoding": {
        "x": {"field": "day", "type": "quantitative", "title": null},
        "y": {"field": "lo1", "type": "quantitative", "title": "mm"},
        "y2": {"field": "hi1"}
      }
    },
    {
      "data": {"name": "years"},
      "transform": [{"filter": "datum.Year !== '2023'"}],
      "mark": {"type": "line", "interpolate": "step-after", "strokeWidth": 1.7, "opacity": 0.85},
      "encoding": {
        "x": {"field": "day", "type": "quantitative", "title": null},
        "y": {"field": "mm", "type": "quantitative", "title": "mm"},
        "color": {
          "field": "Year", "type": "nominal",
          "scale": {
            "domain": ["1993","1994","1995","1996","1997","1998","1999","2000","2001","2002","2003","2004","2005","2006","2007","2008","2009","2010","2011","2012","2013","2014","2015","2016","2017","2018","2019","2020","2021","2022","2023"],
            "range": ["#FA9892","#F39F77","#EAA740","#E2AC40","#D8B140","#CBB640","#BDBB40","#ACBF40","#98C340","#7DC740","#49CA5F","#40CD80","#40CE95","#40D0A9","#40D0BC","#40CFCB","#40CDDA","#40CAE6","#40C5F2","#40C0FB","#6FB9FF","#98B2FF","#B5AAFF","#CBA0FF","#DF96FB","#EE90F4","#F78CE9","#FE89DA","#FF8ACB","#FF8DBB","#FC6F8A"]
          },
          "legend": {
            "title": "Year",
            "orient": "none",
            "legendX": 42,
            "legendY": 2,
            "columns": 2,
            "columnPadding": 2,
            "rowPadding": -4.6,
            "gridAlign": "all",
            "symbolLimit": 0,
            "symbolType": "stroke",
            "symbolSize": 169,
            "symbolStrokeWidth": {"expr": "datum.value === '2023' ? 5 : 2.5"},
            "symbolOpacity": {"expr": "datum.value === '2023' ? 1 : 0.7"},
            "labelFontSize": 11,
            "labelColor": "#c8c8c8",
            "labelOffset": 7,
            "titleFontSize": 12,
            "titleColor": "#c8c8c8",
            "titleFontWeight": "normal",
            "titlePadding": 8
          }
        }
      }
    },
    {
      "data": {"name": "band"},
      "mark": {"type": "line", "color": "#ece4e4", "strokeWidth": 3, "opacity": 0.9},
      "encoding": {
        "x": {"field": "day", "type": "quantitative", "title": null},
        "y": {"field": "mean", "type": "quantitative", "title": "mm"}
      }
    },
    {
      "data": {"name": "years"},
      "transform": [{"filter": "datum.Year === '2023'"}],
      "mark": {"type": "line", "interpolate": "step-after", "strokeWidth": 4.5, "opacity": 1},
      "encoding": {
        "x": {"field": "day", "type": "quantitative", "title": null},
        "y": {"field": "mm", "type": "quantitative", "title": "mm"},
        "color": {"field": "Year", "type": "nominal"}
      }
    }
  ]
}
